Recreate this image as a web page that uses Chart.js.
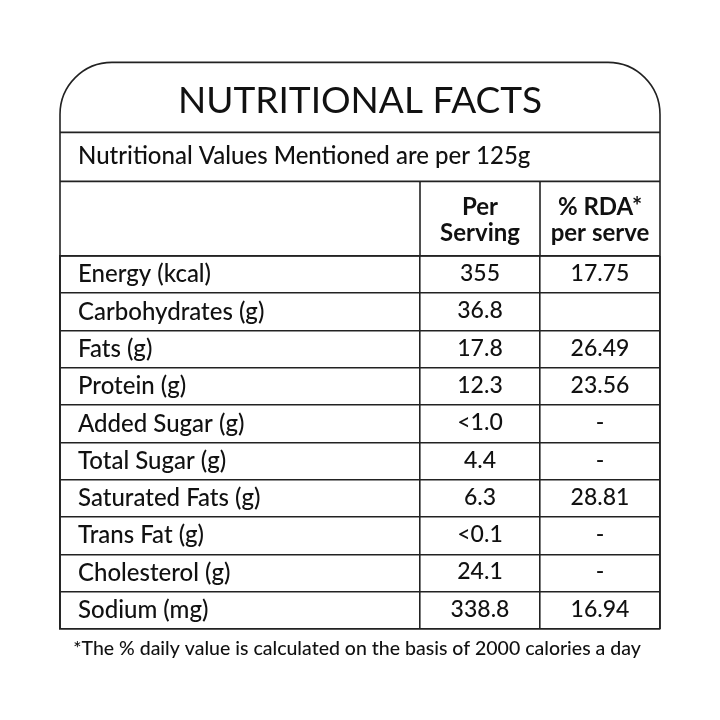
<!DOCTYPE html>
<html>
<head>
<meta charset="utf-8">
<title>Nutritional Facts</title>
<script src="https://cdn.jsdelivr.net/npm/chart.js@4.4.1/dist/chart.umd.min.js"></script>
<style>
  html, body { margin: 0; padding: 0; background: #fff; }
  #wrap { width: 720px; height: 720px; }
</style>
</head>
<body>
<div id="wrap"><canvas id="facts" width="720" height="720"></canvas></div>
<script>
// table content
const TITLE = 'NUTRITIONAL FACTS';
const SUBTITLE = 'Nutritional Values Mentioned are per 125g';
const HEAD_SERVING = ['Per', 'Serving'];
const HEAD_RDA = ['% RDA*', 'per serve'];
const NUTRIENTS = ['Energy (kcal)', 'Carbohydrates (g)', 'Fats (g)', 'Protein (g)', 'Added Sugar (g)',
  'Total Sugar (g)', 'Saturated Fats (g)', 'Trans Fat (g)', 'Cholesterol (g)', 'Sodium (mg)'];
const PER_SERVING = ['355', '36.8', '17.8', '12.3', '<1.0', '4.4', '6.3', '<0.1', '24.1', '338.8'];
const RDA = ['17.75', '', '26.49', '23.56', '-', '-', '28.81', '-', '-', '16.94'];
const FOOTNOTE = '*The % daily value is calculated on the basis of 2000 calories a day';

const FONT = 'Lato, "Open Sans", sans-serif';
const INK = '#111';
const LINE = '#222';

// x units: label column 0..3, serving column 3..4, rda column 4..5
const COL_SERVING = 3.5, COL_RDA = 4.5;

const tablePlugin = {
  id: 'table',
  beforeDraw(chart) {
    const { ctx, chartArea: a, scales: { x, y } } = chart;
    const rowH = Math.abs(y.getPixelForValue(1) - y.getPixelForValue(0));
    const headTop = a.top - 2 * rowH;       // header row is two rows tall
    const subTop = headTop - 49;
    const titleTop = subTop - 70;
    const r = 52;

    ctx.save();
    ctx.strokeStyle = LINE; ctx.lineWidth = 1.6;
    // outer frame with rounded top corners
    ctx.beginPath();
    ctx.moveTo(a.left, a.bottom);
    ctx.lineTo(a.left, titleTop + r);
    ctx.arcTo(a.left, titleTop, a.left + r, titleTop, r);
    ctx.lineTo(a.right - r, titleTop);
    ctx.arcTo(a.right, titleTop, a.right, titleTop + r, r);
    ctx.lineTo(a.right, a.bottom);
    ctx.stroke();
    // section rules
    [subTop, headTop, a.top].forEach((yy) => { ctx.beginPath(); ctx.moveTo(a.left, yy); ctx.lineTo(a.right, yy); ctx.stroke(); });
    // column rules through the header
    [3, 4].forEach((v) => { const xx = x.getPixelForValue(v); ctx.beginPath(); ctx.moveTo(xx, headTop); ctx.lineTo(xx, a.top); ctx.stroke(); });

    ctx.fillStyle = INK; ctx.textBaseline = 'middle';
    ctx.textAlign = 'center';
    ctx.font = `37px ${FONT}`;
    ctx.fillText(TITLE, (a.left + a.right) / 2, titleTop + 39);
    ctx.textAlign = 'left';
    ctx.font = `500 24px ${FONT}`;
    ctx.fillText(SUBTITLE, a.left + 18, subTop + 24);
    ctx.textAlign = 'center';
    ctx.font = `bold 24px ${FONT}`;
    HEAD_SERVING.forEach((t, i) => ctx.fillText(t, x.getPixelForValue(COL_SERVING), headTop + 26 + i * 26));
    HEAD_RDA.forEach((t, i) => ctx.fillText(t, x.getPixelForValue(COL_RDA), headTop + 26 + i * 26));
    ctx.font = `500 19.5px ${FONT}`;
    ctx.fillText(FOOTNOTE, (a.left + a.right) / 2 - 3, a.bottom + 20);
    ctx.restore();
  },
  afterDatasetsDraw(chart) {
    const { ctx } = chart;
    ctx.save();
    ctx.fillStyle = INK; ctx.textAlign = 'center'; ctx.textBaseline = 'middle';
    ctx.font = `500 23px ${FONT}`;
    chart.data.datasets.forEach((ds, di) => {
      chart.getDatasetMeta(di).data.forEach((pt, i) => ctx.fillText(ds.texts[i], pt.x, pt.y - 1));
    });
    ctx.restore();
  },
};

new Chart(document.getElementById('facts'), {
  type: 'scatter',
  data: {
    labels: NUTRIENTS,
    datasets: [
      { label: 'Per Serving', texts: PER_SERVING, data: NUTRIENTS.map((n) => ({ x: COL_SERVING, y: n })), pointRadius: 0 },
      { label: '% RDA', texts: RDA, data: NUTRIENTS.map((n) => ({ x: COL_RDA, y: n })), pointRadius: 0 },
    ],
  },
  options: {
    responsive: false, animation: false, devicePixelRatio: 1,
    layout: { padding: { left: 60, right: 60, top: 256, bottom: 91 } },
    plugins: { legend: { display: false }, tooltip: { enabled: false } },
    events: [],
    scales: {
      x: {
        type: 'linear', min: 0, max: 5,
        afterBuildTicks: (s) => { s.ticks = [0, 3, 4, 5].map((v) => ({ value: v })); },
        ticks: { display: false },
        grid: { color: LINE, lineWidth: 1.6, drawTicks: false, tickLength: 0 },
        border: { color: LINE, width: 1.6 },
      },
      y: {
        type: 'category', offset: true,
        afterFit: (s) => { s.width = 0; },   // labels sit inside the table
        ticks: { mirror: true, padding: 18, color: INK, font: { family: FONT, size: 24, weight: 500 } },
        grid: { offset: true, color: LINE, lineWidth: 1.6, drawTicks: false, tickLength: 0 },
        border: { color: LINE, width: 1.6 },
      },
    },
  },
  plugins: [tablePlugin],
});
</script>
</body>
</html>
